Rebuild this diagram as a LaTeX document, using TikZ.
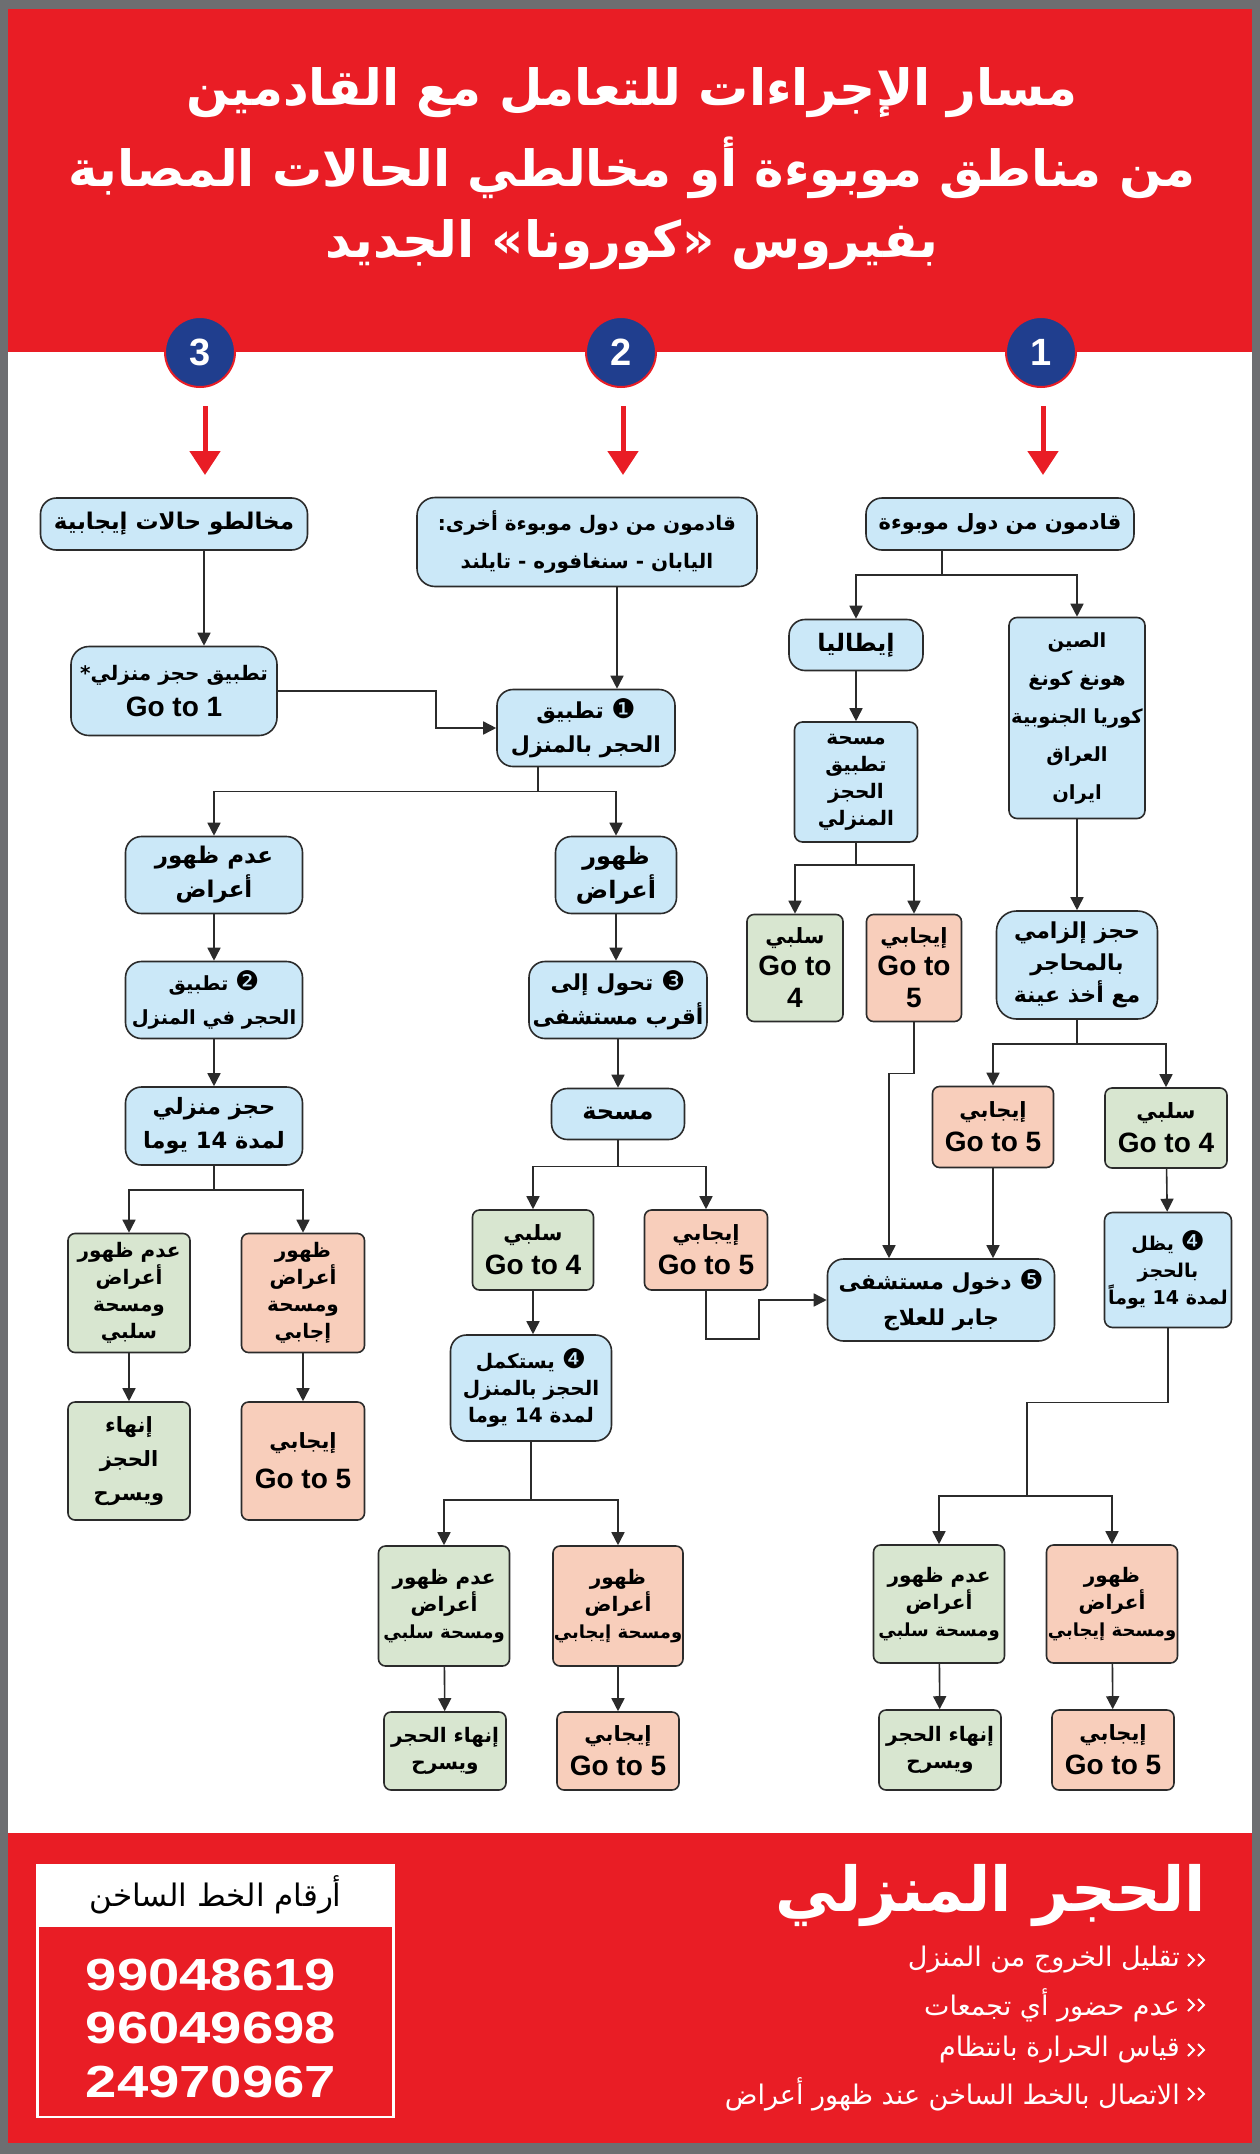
\documentclass[tikz,border=0pt]{standalone}
\usepackage{fontspec}
\usetikzlibrary{arrows.meta,calc}
\TeXXeTstate=1
\newfontfamily\arabicfont[Script=Arabic]{DejaVu Sans}
\newfontfamily\latinfont{Liberation Sans}
\newfontfamily\symfont{DejaVu Sans}
\newcommand{\rl}[1]{\beginR #1\endR}
\newcommand{\gto}[1]{{\latinfont\bfseries\fontsize{28}{30}\selectfont #1}}
\newcommand{\cnum}[1]{{\symfont\mdseries\fontsize{27}{27}\selectfont #1}}
\newcommand{\nm}[1]{\beginL #1\endL{}}
\newcommand{\sm}[1]{{\fontsize{18}{27}\selectfont #1}}
\definecolor{hred}{HTML}{E91D25}
\definecolor{framegray}{HTML}{6D6E71}
\definecolor{cblue}{HTML}{203E8E}
\definecolor{bfill}{HTML}{CBE8F8}
\definecolor{gfill}{HTML}{D8E6D0}
\definecolor{ofill}{HTML}{F8CEBB}
\definecolor{ink}{HTML}{2B2B2B}
\begin{document}
\begin{tikzpicture}[x=1pt,y=-1pt,
  fs/.style 2 args={font=\arabicfont\bfseries\fontsize{#1}{#2}\selectfont},
  box/.style={draw=ink, line width=1.6pt, align=center, inner sep=0pt, text=black, fs={21}{34}},
  tight/.style={fs={20}{27}},
  bbox/.style={box, fill=bfill, rounded corners=16pt},
  sbox/.style={box, fill=bfill, rounded corners=8pt},
  gbox/.style={box, fill=gfill, rounded corners=7pt},
  obox/.style={box, fill=ofill, rounded corners=7pt},
  wh/.style 2 args={minimum width=#1pt, minimum height=#2pt},
  line/.style={draw=ink, line width=1.6pt},
  arr/.style={line, -{Triangle[length=13pt,width=13pt]}},
  redarr/.style={draw=hred, line width=5pt, -{Triangle[length=24pt,width=30pt]}},
  ttl/.style={text=white, font=\arabicfont\bfseries\fontsize{50}{60}\selectfont, inner sep=0pt},
  numc/.style={circle, fill=cblue, draw=hred, line width=2pt, minimum size=70pt, inner sep=0pt,
    text=white, font=\latinfont\bfseries\fontsize{38}{38}\selectfont},
  bul/.style={text=white, anchor=east, inner sep=0pt, font=\arabicfont\fontsize{27}{30}\selectfont},
  chevline/.style={draw=white, line width=2pt, line join=miter},
  phone/.style={text=white, inner sep=0pt, font=\latinfont\bfseries\fontsize{45}{45}\selectfont}
]
\useasboundingbox (0,0) rectangle (1260,2154);
% frame and bands
\fill[framegray] (0,0) rectangle (1260,2154);
\fill[white] (8,9) rectangle (1252,2143);
\fill[hred] (8,9) rectangle (1252,352);
\fill[hred] (8,1833) rectangle (1252,2143);

% title
\node[ttl] (t1) at (632,93) {\rl{مسار الإجراءات للتعامل مع القادمين}};
\node[ttl] (t2) at (632,168) {\rl{من مناطق موبوءة أو مخالطي الحالات المصابة}};
\node[ttl] (t3) at (632,245) {\rl{بفيروس «كورونا» الجديد}};

% numbered circles
\node[numc] (n1) at (1041,352) {1};
\node[numc] (n2) at (621,352) {2};
\node[numc] (n3) at (200,352) {3};
\draw[redarr] ([xshift=2pt,yshift=-18pt]n1.south) -- ++(0,69);
\draw[redarr] ([xshift=2pt,yshift=-18pt]n2.south) -- ++(0,69);
\draw[redarr] ([xshift=5pt,yshift=-18pt]n3.south) -- ++(0,69);

% ---------- column 1 ----------
\node[bbox, wh={268}{52}, fs={21}{34}] (a1) at (1000,524) {\rl{قادمون من دول موبوءة}};
\node[bbox, wh={134}{51}, fs={24}{34}] (aIt) at (856,645) {\rl{إيطاليا}};
\node[sbox, wh={136}{201}, fs={19.5}{38}] (aCn) at (1077,718)
  {\rl{الصين}\\\rl{هونغ كونغ}\\\rl{كوريا الجنوبية}\\\rl{العراق}\\\rl{ايران}};
\node[sbox, tight, wh={123}{120}] (aMs) at (856,782) {\rl{مسحة}\\\rl{تطبيق}\\\rl{الحجز}\\\rl{المنزلي}};
\node[gbox, wh={96}{107}, fs={21}{32}] (aNeg) at (795,968) {\rl{سلبي}\\\gto{Go to}\\\gto{4}};
\node[obox, wh={95}{107}, fs={21}{32}] (aPos) at (914,968) {\rl{إيجابي}\\\gto{Go to}\\\gto{5}};
\node[bbox, rounded corners=20pt, wh={161}{108}, fs={22}{32}] (aMand) at (1077,965)
  {\rl{حجز إلزامي}\\\rl{بالمحاجر}\\\rl{مع أخذ عينة}};
\node[obox, wh={121}{81}] (aPos2) at (993,1127) {\rl{إيجابي}\\\gto{Go to 5}};
\node[gbox, wh={122}{80}] (aNeg2) at (1166,1128) {\rl{سلبي}\\\gto{Go to 4}};
\node[sbox, fs={19}{27}, wh={127}{115}] (aStay) at (1168,1270) {\rl{\cnum{❹} يظل}\\\rl{بالحجز}\\\rl{لمدة \nm{14} يوماً}};
\node[bbox, wh={227}{82}, fs={22}{36}] (hosp) at (941,1300) {\rl{\cnum{❺} دخول مستشفى}\\\rl{جابر للعلاج}};
\node[gbox, tight, wh={131}{118}] (aNo) at (939,1604) {\rl{عدم ظهور}\\\rl{أعراض}\\\rl{\sm{ومسحة سلبي}}};
\node[obox, tight, wh={131}{118}] (aYes) at (1112,1604) {\rl{ظهور}\\\rl{أعراض}\\\rl{\sm{ومسحة إيجابي}}};
\node[gbox, tight, wh={122}{80}] (aEnd) at (940,1750) {\rl{إنهاء الحجر}\\\rl{ويسرح}};
\node[obox, wh={122}{80}] (aGo5) at (1113,1750) {\rl{إيجابي}\\\gto{Go to 5}};

% ---------- column 2 ----------
\node[bbox, rounded corners=18pt, wh={340}{89}, fs={20}{38}] (b1) at (587,542)
  {\rl{قادمون من دول موبوءة أخرى:}\\\rl{اليابان - سنغافوره - تايلند}};
\node[bbox, wh={178}{77}, fs={22}{34}] (bQ) at (586,728) {\rl{\cnum{❶} تطبيق}\\\rl{الحجر بالمنزل}};
\node[bbox, wh={121}{77}, fs={24}{34}] (bSym) at (616,875) {\rl{ظهور}\\\rl{أعراض}};
\node[bbox, wh={178}{77}, fs={22}{34}] (bHosp) at (618,1000) {\rl{\cnum{❸} تحول إلى}\\\rl{أقرب مستشفى}};
\node[bbox, wh={133}{51}, fs={24}{34}] (bSwab) at (618,1114) {\rl{مسحة}};
\node[gbox, wh={121}{80}] (bNeg) at (533,1250) {\rl{سلبي}\\\gto{Go to 4}};
\node[obox, wh={123}{80}] (bPos) at (706,1250) {\rl{إيجابي}\\\gto{Go to 5}};
\node[bbox, tight, wh={161}{106}] (bCont) at (531,1388) {\rl{\cnum{❹} يستكمل}\\\rl{الحجز بالمنزل}\\\rl{لمدة \nm{14} يوما}};
\node[gbox, tight, wh={131}{120}] (bNo) at (444,1606) {\rl{عدم ظهور}\\\rl{أعراض}\\\rl{\sm{ومسحة سلبي}}};
\node[obox, tight, wh={130}{120}] (bYes) at (618,1606) {\rl{ظهور}\\\rl{أعراض}\\\rl{\sm{ومسحة إيجابي}}};
\node[gbox, tight, wh={122}{78}] (bEnd) at (445,1751) {\rl{إنهاء الحجر}\\\rl{ويسرح}};
\node[obox, wh={122}{78}] (bGo5) at (618,1751) {\rl{إيجابي}\\\gto{Go to 5}};

% ---------- column 3 ----------
\node[bbox, wh={267}{52}, fs={23}{34}] (c1) at (174,524) {\rl{مخالطو حالات إيجابية}};
\node[bbox, rounded corners=18pt, wh={206}{89}, fs={20}{36}] (cHome) at (174,691) {\rl{تطبيق حجز منزلي*}\\\gto{Go to 1}};
\node[bbox, wh={177}{77}, fs={23}{34}] (cNo) at (214,875) {\rl{عدم ظهور}\\\rl{أعراض}};
\node[bbox, wh={177}{77}, fs={19.5}{34}] (cQ) at (214,1000) {\rl{\cnum{❷} تطبيق}\\\rl{الحجر في المنزل}};
\node[bbox, wh={177}{78}, fs={22.5}{34}] (c14) at (214,1126) {\rl{حجز منزلي}\\\rl{لمدة \nm{14} يوما}};
\node[gbox, tight, wh={122}{119}] (cNeg) at (129,1293) {\rl{عدم ظهور}\\\rl{أعراض}\\\rl{ومسحة}\\\rl{سلبي}};
\node[obox, tight, wh={123}{119}] (cPos) at (303,1293) {\rl{ظهور}\\\rl{أعراض}\\\rl{ومسحة}\\\rl{إجابي}};
\node[gbox, fs={21}{34}, wh={122}{118}] (cEnd) at (129,1461) {\rl{إنهاء}\\\rl{الحجز}\\\rl{ويسرح}};
\node[obox, wh={123}{118}] (cGo5) at (303,1461) {\rl{إيجابي}\\[6pt]\gto{Go to 5}};

% ---------- connectors column 3 ----------
\draw[arr] ([xshift=30pt]c1.south) -- ([xshift=30pt]cHome.north);
\draw[arr] (cHome.east) -- ++(158,0) |- (bQ.west);
\draw[line] ([xshift=-48pt]bQ.south) -- ++(0,24) coordinate (bqs);
\draw[arr] (bqs) -| (cNo.north);
\draw[arr] (bqs) -| (bSym.north);
\draw[arr] (cNo) -- (cQ);
\draw[arr] (cQ) -- (c14);
\draw[line] (c14.south) -- ++(0,24) coordinate (c14s);
\draw[arr] (c14s) -| (cNeg.north);
\draw[arr] (c14s) -| (cPos.north);
\draw[arr] (cNeg) -- (cEnd);
\draw[arr] (cPos) -- (cGo5);

% ---------- connectors column 2 ----------
\draw[arr] ([xshift=30pt]b1.south) -- ([xshift=31pt]bQ.north);
\draw[arr] (bSym.south) -- (bSym.south |- bHosp.north);
\draw[arr] (bHosp) -- (bSwab);
\draw[line] (bSwab.south) -- ++(0,26) coordinate (sws);
\draw[arr] (sws) -| (bNeg.north);
\draw[arr] (sws) -| (bPos.north);
\draw[arr] (bNeg.south) -- (bNeg.south |- bCont.north);
\draw[arr] (bPos.south) -- ++(0,48) -- ++(53,0) |- (hosp.west);
\draw[line] (bCont.south) -- ++(0,58) coordinate (bcs);
\draw[arr] (bcs) -| (bNo.north);
\draw[arr] (bcs) -| (bYes.north);
\draw[arr] (bNo) -- (bEnd);
\draw[arr] (bYes) -- (bGo5);

% ---------- connectors column 1 ----------
\draw[line] ([xshift=-58pt]a1.south) -- ++(0,24) coordinate (a1s);
\draw[arr] (a1s) -| (aIt.north);
\draw[arr] (a1s) -| (aCn.north);
\draw[arr] (aIt) -- (aMs);
\draw[line] (aMs.south) -- ++(0,22) coordinate (mss);
\draw[arr] (mss) -| (aNeg.north);
\draw[arr] (mss) -| (aPos.north);
\draw[arr] (aCn) -- (aMand);
\draw[line] (aMand.south) -- ++(0,24) coordinate (mds);
\draw[arr] (mds) -| (aPos2.north);
\draw[arr] (mds) -| (aNeg2.north);
\draw[arr] (aNeg2) -- (aStay);
\draw[arr] (aPos.south) -- ++(0,51) -| ([xshift=-52pt]hosp.north);
\draw[arr] (aPos2.south) -- (aPos2.south |- hosp.north);
\draw[line] (aStay.south) -- ++(0,74) -| (1027,1496) coordinate (sts);
\draw[arr] (sts) -| (aNo.north);
\draw[arr] (sts) -| (aYes.north);
\draw[arr] (aNo) -- (aEnd);
\draw[arr] (aYes) -- (aGo5);

% ---------- footer ----------
\node[fill=white, inner sep=0pt, minimum width=359pt, minimum height=62pt,
  font=\arabicfont\fontsize{31}{34}\selectfont] (hlh) at (215.5,1895) {\rl{أرقام الخط الساخن}};
\draw[white, line width=2.5pt] ([xshift=1.5pt]hlh.south west) rectangle ([xshift=-1.5pt,yshift=-191pt]hlh.south east);
\node[phone] (p1) at (211,1975) {\scalebox{1.25}[1]{99048619}};
\node[phone] (p2) at (211,2028) {\scalebox{1.25}[1]{96049698}};
\node[phone] (p3) at (211,2082) {\scalebox{1.25}[1]{24970967}};

\node[text=white, anchor=east, inner sep=0pt, font=\arabicfont\bfseries\fontsize{62}{70}\selectfont] (ft) at (1206,1895) {\rl{الحجر المنزلي}};
\node[bul] (l1) at (1180,1960) {\rl{تقليل الخروج من المنزل}};
\node[bul] (l2) at (1180,2005) {\rl{عدم حضور أي تجمعات}};
\node[bul] (l3) at (1180,2050) {\rl{قياس الحرارة بانتظام}};
\node[bul] (l4) at (1180,2094) {\rl{الاتصال بالخط الساخن عند ظهور أعراض}};
\foreach \n in {l1,l2,l3,l4}{
  \draw[chevline] ([xshift=8pt,yshift=6pt]\n.east) -- ++(6,6) -- ++(-6,6);
  \draw[chevline] ([xshift=18pt,yshift=6pt]\n.east) -- ++(6,6) -- ++(-6,6);
}
\end{tikzpicture}
\end{document}
